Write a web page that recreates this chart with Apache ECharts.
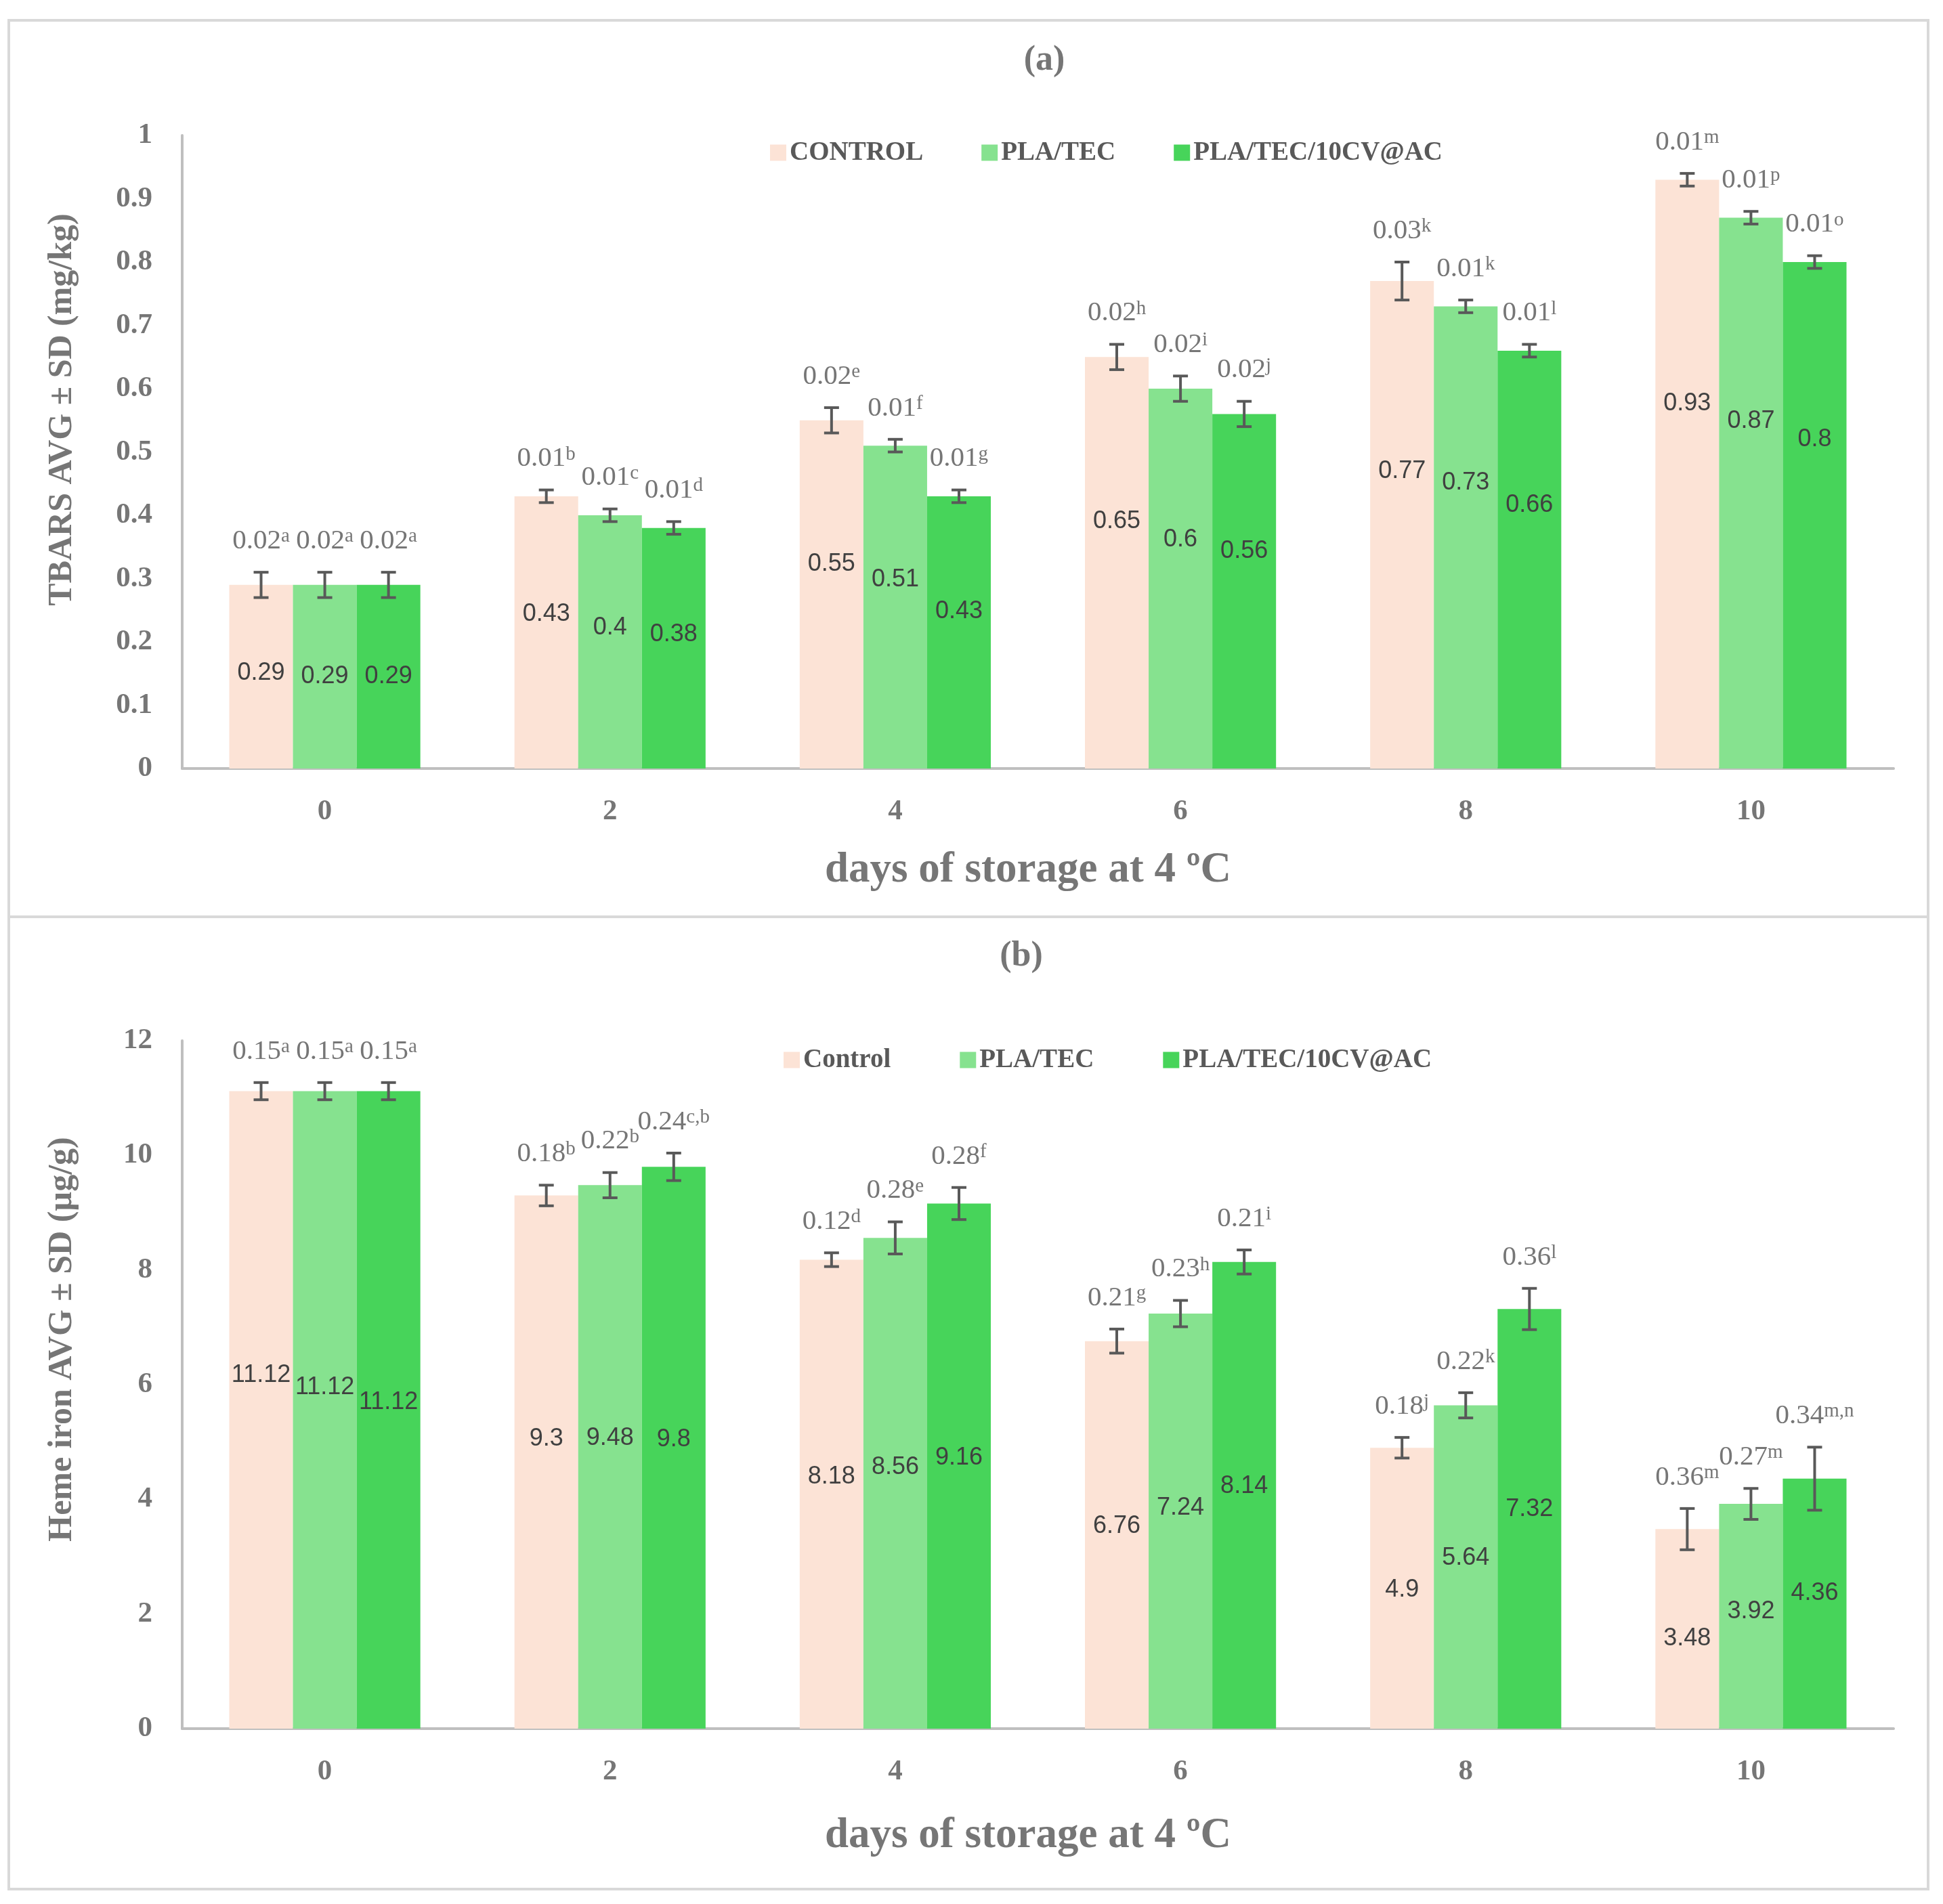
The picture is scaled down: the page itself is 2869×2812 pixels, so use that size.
<!DOCTYPE html>
<html>
<head>
<meta charset="utf-8">
<script src="https://cdn.jsdelivr.net/npm/echarts@6/dist/echarts.min.js"></script>
<style>
html,body{margin:0;padding:0;background:#fff;}
#chart{width:2869px;height:2812px;}
</style>
</head>
<body>
<div id="chart"></div>
<script>
// ---------- data ----------
const days = ['0', '2', '4', '6', '8', '10'];
const seriesNamesA = ['CONTROL', 'PLA/TEC', 'PLA/TEC/10CV@AC'];
const seriesNamesB = ['Control', 'PLA/TEC', 'PLA/TEC/10CV@AC'];

// (a) TBARS (mg/kg)
const tbarsControl = [0.29, 0.43, 0.55, 0.65, 0.77, 0.93];
const tbarsPla     = [0.29, 0.40, 0.51, 0.60, 0.73, 0.87];
const tbarsPlaCv   = [0.29, 0.38, 0.43, 0.56, 0.66, 0.80];
const tbarsSdControl = [0.02, 0.01, 0.02, 0.02, 0.03, 0.01];
const tbarsSdPla     = [0.02, 0.01, 0.01, 0.02, 0.01, 0.01];
const tbarsSdPlaCv   = [0.02, 0.01, 0.01, 0.02, 0.01, 0.01];
const tbarsLetControl = ['a', 'b', 'e', 'h', 'k', 'm'];
const tbarsLetPla     = ['a', 'c', 'f', 'i', 'k', 'p'];
const tbarsLetPlaCv   = ['a', 'd', 'g', 'j', 'l', 'o'];

// (b) Heme iron (µg/g)
const hemeControl = [11.12, 9.30, 8.18, 6.76, 4.90, 3.48];
const hemePla     = [11.12, 9.48, 8.56, 7.24, 5.64, 3.92];
const hemePlaCv   = [11.12, 9.80, 9.16, 8.14, 7.32, 4.36];
const hemeSdControl = [0.15, 0.18, 0.12, 0.21, 0.18, 0.36];
const hemeSdPla     = [0.15, 0.22, 0.28, 0.23, 0.22, 0.27];
const hemeSdPlaCv   = [0.15, 0.24, 0.28, 0.21, 0.36, 0.34];
// error bar half-lengths as drawn in the picture
const hemeErrControl = [0.15, 0.18, 0.12, 0.21, 0.18, 0.36];
const hemeErrPla     = [0.15, 0.22, 0.28, 0.23, 0.22, 0.27];
const hemeErrPlaCv   = [0.15, 0.24, 0.28, 0.21, 0.36, 0.55];
const hemeLetControl = ['a', 'b', 'd', 'g', 'j', 'm'];
const hemeLetPla     = ['a', 'b', 'e', 'h', 'k', 'm'];
const hemeLetPlaCv   = ['a', 'c,b', 'f', 'i', 'l', 'm,n'];

const yTicksA = { min: 0, max: 1, interval: 0.1 };
const yTicksB = { min: 0, max: 12, interval: 2 };

// ---------- style ----------
const colors = ['#FCE3D6', '#86E28F', '#47D45A'];
const serif = 'Liberation Serif';
const greyText = '#767676';
const axisGrey = '#BFBFBF';
const CAT_GAP = 0.33;
// label placement style (fraction of value, offset) per series
const labelFitA = [[0.666, -0.043], [0.695, -0.056], [0.733, -0.067]];
const labelFitB = [[0.601, -0.526], [0.544, -0.095], [0.4935, 0.206]];

function makeBar(name, values, color, axisIdx, fit) {
  return {
    type: 'bar', name: name, xAxisIndex: axisIdx, yAxisIndex: axisIdx,
    barGap: '0%', barCategoryGap: (CAT_GAP * 100) + '%',
    itemStyle: { color: color },
    label: {
      show: true, align: 'center', verticalAlign: 'middle',
      color: '#404040', fontFamily: 'Liberation Sans', fontSize: 36
    },
    data: values.map(function (v) {
      const centre = fit[0] * v + fit[1];
      const pct = ((v - centre) / v * 100).toFixed(1) + '%';
      return { value: v, label: { position: ['50%', pct] } };
    }),
    z: 2
  };
}

function makeErr(vals, errs, sds, lets, axisIdx) {
  const data = [];
  for (let s = 0; s < 3; s++) {
    for (let i = 0; i < days.length; i++) {
      data.push([i, vals[s][i], errs[s][i], s]);
    }
  }
  return {
    type: 'custom', xAxisIndex: axisIdx, yAxisIndex: axisIdx,
    encode: { x: 0, y: 1 }, clip: false, z: 5, silent: true,
    data: data,
    renderItem: function (params, api) {
      const cat = api.value(0), v = api.value(1), e = api.value(2), s = api.value(3);
      const c = api.coord([cat, v]);
      const catW = api.size([1, 0])[0];
      const bw = catW * (1 - CAT_GAP) / 3;
      const x = c[0] + (s - 1) * bw;
      const top = api.coord([cat, v + e])[1];
      const bot = api.coord([cat, v - e])[1];
      const st = { stroke: '#595959', lineWidth: 4 };
      const i = params.dataIndex % days.length;
      const txt = '{n|' + sds[s][i].toFixed(2) + '}{s|' + lets[s][i] + '}';
      return {
        type: 'group',
        children: [
          { type: 'line', shape: { x1: x, y1: top, x2: x, y2: bot }, style: st },
          { type: 'line', shape: { x1: x - 11, y1: top, x2: x + 11, y2: top }, style: st },
          { type: 'line', shape: { x1: x - 11, y1: bot, x2: x + 11, y2: bot }, style: st },
          {
            type: 'text', x: x, y: top - 46,
            style: {
              text: txt, align: 'center', verticalAlign: 'middle',
              rich: {
                n: { fontSize: 41, fontFamily: serif, fill: greyText, lineHeight: 42 },
                s: { fontSize: 29, fontFamily: serif, fill: greyText, lineHeight: 29, verticalAlign: 'top' }
              }
            }
          }
        ]
      };
    }
  };
}

function xAxisCfg(gi) {
  return {
    type: 'category', gridIndex: gi, data: days,
    axisLine: { lineStyle: { color: axisGrey, width: 4 } },
    axisTick: { show: false },
    axisLabel: { fontFamily: serif, fontWeight: 'bold', fontSize: 43, color: greyText, margin: 42 },
    splitLine: { show: false }
  };
}
function yAxisCfg(gi, t) {
  return {
    type: 'value', gridIndex: gi, min: t.min, max: t.max, interval: t.interval,
    axisLine: { show: true, lineStyle: { color: axisGrey, width: 4 } },
    axisTick: { show: false },
    axisLabel: { fontFamily: serif, fontWeight: 'bold', fontSize: 43, color: greyText, margin: 44 },
    splitLine: { show: false }
  };
}

function legendCfg(names, left, top, gap) {
  return {
    data: names, left: left, top: top, itemWidth: 24, itemHeight: 24, itemGap: gap,
    icon: 'rect', selectedMode: false,
    textStyle: { fontFamily: serif, fontWeight: 'bold', fontSize: 39, color: '#595959', lineHeight: 38 }
  };
}

function gText(text, x, y, size, rot) {
  return {
    type: 'text', x: x, y: y, rotation: rot || 0, silent: true,
    style: {
      text: text, align: 'center', verticalAlign: 'middle',
      fontFamily: serif, fontWeight: 'bold', fontSize: size, fill: greyText
    }
  };
}

const chart = echarts.init(document.getElementById('chart'));
chart.setOption({
  backgroundColor: '#ffffff',
  animation: false,
  grid: [
    { left: 269, right: 73, top: 200, height: 935, containLabel: false },
    { left: 269, right: 73, top: 1537, height: 1016, containLabel: false }
  ],
  xAxis: [xAxisCfg(0), xAxisCfg(1)],
  yAxis: [yAxisCfg(0, yTicksA), yAxisCfg(1, yTicksB)],
  legend: [
    legendCfg(seriesNamesA, 1132, 201, 86),
    legendCfg(seriesNamesB, 1152, 1541, 102)
  ],
  graphic: [
    { type: 'rect', shape: { x: 13, y: 30, width: 2834, height: 1324 }, style: { fill: 'none', stroke: '#D9D9D9', lineWidth: 4 }, silent: true },
    { type: 'rect', shape: { x: 13, y: 1354, width: 2834, height: 1436 }, style: { fill: 'none', stroke: '#D9D9D9', lineWidth: 4 }, silent: true },
    gText('(a)', 1542, 90, 52),
    gText('(b)', 1508, 1413, 52),
    gText('days of storage at 4 ºC', 1518, 1286, 63),
    gText('days of storage at 4 ºC', 1518, 2712, 63),
    gText('TBARS AVG ± SD (mg/kg)', 92, 605, 50, Math.PI / 2),
    gText('Heme iron AVG ± SD (µg/g)', 92, 1978, 50, Math.PI / 2)
  ],
  series: [
    makeBar(seriesNamesA[0], tbarsControl, colors[0], 0, labelFitA[0]),
    makeBar(seriesNamesA[1], tbarsPla, colors[1], 0, labelFitA[1]),
    makeBar(seriesNamesA[2], tbarsPlaCv, colors[2], 0, labelFitA[2]),
    makeErr([tbarsControl, tbarsPla, tbarsPlaCv],
            [tbarsSdControl, tbarsSdPla, tbarsSdPlaCv],
            [tbarsSdControl, tbarsSdPla, tbarsSdPlaCv],
            [tbarsLetControl, tbarsLetPla, tbarsLetPlaCv], 0),
    makeBar(seriesNamesB[0], hemeControl, colors[0], 1, labelFitB[0]),
    makeBar(seriesNamesB[1], hemePla, colors[1], 1, labelFitB[1]),
    makeBar(seriesNamesB[2], hemePlaCv, colors[2], 1, labelFitB[2]),
    makeErr([hemeControl, hemePla, hemePlaCv],
            [hemeErrControl, hemeErrPla, hemeErrPlaCv],
            [hemeSdControl, hemeSdPla, hemeSdPlaCv],
            [hemeLetControl, hemeLetPla, hemeLetPlaCv], 1)
  ]
});
</script>
</body>
</html>
